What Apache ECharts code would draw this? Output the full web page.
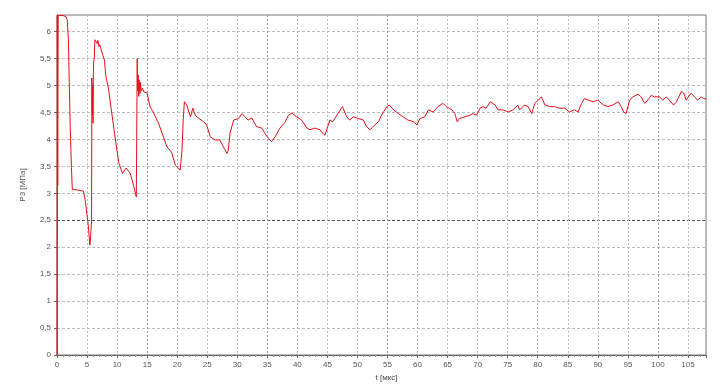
<!DOCTYPE html>
<html><head><meta charset="utf-8">
<script src="https://cdn.jsdelivr.net/npm/echarts@6/dist/echarts.min.js"></script>
<style>html,body{margin:0;padding:0;background:#fff}#c{width:727px;height:389px}</style>
</head><body><div id="c"></div>
<script>
var tValues = [0,0.05,0.12,0.2,0.3,1.0,1.5,1.7,1.9,2.05,2.2,2.4,2.55,3.0,3.5,4.0,4.4,4.7,5.0,5.2,5.4,5.45,5.55,5.7,5.75,5.8,5.85,5.9,5.95,6.0,6.05,6.1,6.2,6.3,6.4,6.5,6.7,6.8,7.0,7.1,7.3,7.5,7.9,8.1,8.6,9.2,9.8,10.3,10.9,11.5,11.7,12.2,12.8,13.2,13.35,13.4,13.5,13.6,13.7,13.8,13.9,14.0,14.2,14.5,15.0,15.5,16.0,16.9,17.7,18.3,18.8,19.1,19.7,20.2,20.5,20.8,21.0,21.2,21.6,22.2,22.6,23.0,23.5,24.4,24.9,25.5,26.3,27.1,27.7,28.3,28.5,28.8,29.4,30.2,30.8,31.3,31.8,32.4,33.2,34.1,34.6,35.2,35.7,36.3,37.1,38.0,38.5,39.1,39.9,40.7,41.6,42.1,42.9,43.8,44.0,44.6,45.4,45.9,46.8,47.5,48.2,48.7,49.3,50.1,51.0,51.5,52.1,52.6,53.5,54.0,54.9,55.3,56.0,56.8,57.6,58.4,59.3,59.9,60.4,61.2,61.8,62.6,63.4,64.2,64.8,65.7,66.2,66.6,67.0,67.9,68.7,69.2,69.8,70.4,70.9,71.4,72.1,72.9,73.4,74.2,75.1,75.9,76.7,77.0,77.8,78.4,79.0,79.5,80.1,80.6,81.2,82.0,82.8,83.6,84.5,85.3,86.1,86.7,87.3,87.8,88.4,89.2,90.0,90.9,91.7,92.5,93.4,93.9,94.3,94.7,95.3,95.8,96.7,97.2,97.8,98.3,98.9,99.4,100.3,100.8,101.4,101.9,102.6,103.1,103.9,104.3,104.7,105.5,106.1,106.6,107.2,107.6,108];
var pValues = [0,6.3,3.15,6.3,6.3,6.3,6.28,6.22,5.85,5.0,4.23,3.48,3.07,3.07,3.06,3.05,3.04,2.87,2.6,2.41,2.13,2.04,2.1,2.41,2.45,5.14,4.6,4.45,5.0,4.3,5.2,5.44,5.5,5.85,5.82,5.88,5.78,5.84,5.72,5.76,5.68,5.66,5.47,5.2,4.92,4.42,3.93,3.56,3.37,3.47,3.49,3.37,3.12,2.93,5.5,4.9,5.2,4.8,5.1,4.85,5.06,4.9,4.95,4.88,4.86,4.6,4.51,4.3,4.05,3.86,3.8,3.75,3.52,3.47,3.43,3.8,4.36,4.7,4.64,4.42,4.58,4.45,4.4,4.33,4.27,4.05,3.99,3.99,3.86,3.74,3.8,4.12,4.36,4.39,4.48,4.42,4.36,4.4,4.24,4.21,4.11,4.02,3.96,4.05,4.21,4.33,4.45,4.49,4.42,4.36,4.21,4.18,4.21,4.18,4.14,4.08,4.36,4.33,4.49,4.61,4.42,4.36,4.42,4.39,4.36,4.24,4.18,4.24,4.33,4.45,4.61,4.64,4.55,4.48,4.42,4.36,4.33,4.27,4.39,4.42,4.55,4.51,4.61,4.67,4.61,4.55,4.48,4.33,4.39,4.42,4.45,4.48,4.45,4.58,4.61,4.58,4.7,4.64,4.55,4.55,4.51,4.55,4.64,4.55,4.64,4.61,4.48,4.67,4.73,4.79,4.64,4.61,4.61,4.58,4.58,4.51,4.55,4.51,4.67,4.76,4.73,4.7,4.73,4.64,4.61,4.64,4.7,4.61,4.51,4.48,4.73,4.79,4.84,4.79,4.67,4.73,4.82,4.79,4.79,4.73,4.79,4.73,4.64,4.7,4.89,4.86,4.73,4.86,4.79,4.73,4.79,4.76,4.75];
var xTickLabels = ['0','5','10','15','20','25','30','35','40','45','50','55','60','65','70','75','80','85','90','95','100','105'];
var yTickLabels = ['0','0,5','1','1,5','2','2,5','3','3,5','4','4,5','5','5,5','6'];

var seriesData = tValues.map(function(t,i){return [t,pValues[i]];});
var xGridColors = xTickLabels.map(function(l){return (l==='15'||l==='35'||l==='55'||l==='100')?'#999':'#bcbcbc';});
var yGridColors = yTickLabels.map(function(l){return l==='2,5'?'#555':'#bcbcbc';});
var font = 'Liberation Sans';
var chart = echarts.init(document.getElementById('c'),null,{renderer:'canvas'});
chart.setOption({
  animation:false,
  backgroundColor:'#fff',
  grid:{left:57,right:21,top:15,bottom:34,show:true,borderColor:'#777',borderWidth:1,backgroundColor:'transparent'},
  xAxis:{type:'value',min:0,max:108,interval:5,
    name:'t [мкс]',nameLocation:'middle',nameGap:13,
    nameTextStyle:{fontFamily:font,fontSize:8,color:'#444',padding:[0,0,0,10]},
    axisLine:{show:true,lineStyle:{color:'#666'}},
    axisTick:{show:true,length:3,lineStyle:{color:'#666'}},
    minorTick:{show:true,splitNumber:5,length:2,lineStyle:{color:'#888'}},
    axisLabel:{fontFamily:font,fontSize:8,color:'#555',margin:6,showMaxLabel:false,
      formatter:function(v){var i=Math.round(v/5);return xTickLabels[i]!==undefined?xTickLabels[i]:'';}},
    splitLine:{show:true,lineStyle:{type:[2,2],color:xGridColors,width:1}}
  },
  yAxis:{type:'value',min:0,max:6.31,interval:0.5,
    name:'P3 [МПа]',nameLocation:'middle',nameGap:30,nameRotate:90,
    nameTextStyle:{fontFamily:font,fontSize:8,color:'#555'},
    axisLine:{show:true,lineStyle:{color:'#666'}},
    axisTick:{show:true,length:3,lineStyle:{color:'#666'}},
    axisLabel:{fontFamily:font,fontSize:8,color:'#555',margin:6,showMaxLabel:false,
      formatter:function(v){var i=Math.round(v/0.5);return yTickLabels[i]!==undefined?yTickLabels[i]:'';}},
    splitLine:{show:true,lineStyle:{type:[3,2],color:yGridColors,width:1}}
  },
  series:[{type:'line',data:seriesData,showSymbol:false,symbol:'none',
    lineStyle:{color:'#e3121b',width:1},clip:true}]
});
</script></body></html>
